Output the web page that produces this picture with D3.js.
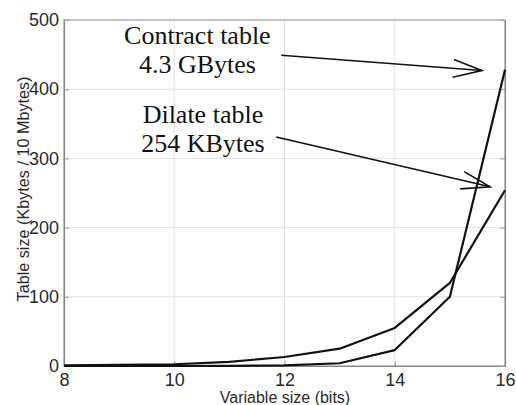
<!DOCTYPE html>
<html>
<head>
<meta charset="utf-8">
<script src="https://cdn.jsdelivr.net/npm/d3@7.9.0/dist/d3.min.js"></script>
<style>
  body { margin: 0; background: #fff; }
  svg { display: block; }
</style>
</head>
<body>
<svg id="chart" width="516" height="405"></svg>
<script>
// data
const bits = [8, 9, 10, 11, 12, 13, 14, 15, 16];
const dilateSize = [1, 1.5, 2.5, 6, 13, 25, 55, 120, 254];
const contractSize = [0, 0, 0, 0.3, 1, 4, 23, 100, 428];
const xTicks = [8, 10, 12, 14, 16];
const yTicks = [0, 100, 200, 300, 400, 500];

// annotation text + arrows, in data units
const labels = [
  { text: 'Contract table', x: 10.42, y: 465 },
  { text: '4.3 GBytes', x: 10.42, y: 423 },
  { text: 'Dilate table', x: 10.52, y: 351 },
  { text: '254 KBytes', x: 10.52, y: 309 },
];
const arrows = [
  { x1: 11.94, y1: 449, x2: 15.58, y2: 427 },
  { x1: 11.85, y1: 331, x2: 15.73, y2: 259 },
];

const svg = d3.select('#chart');
const padL = 64, padR = 505, padT = 20, padB = 366;

let x = d3.scaleLinear().domain([8, 16]).range([padL, padR]);
let y = d3.scaleLinear().domain([0, 500]).range([padB, padT]);

// grid
svg.append('g').selectAll('line').data(xTicks.slice(1, -1)).join('line')
  .attr('x1', d => x(d)).attr('x2', d => x(d))
  .attr('y1', padT).attr('y2', padB)
  .attr('stroke', '#e0e0e0').attr('stroke-width', 1);
svg.append('g').selectAll('line').data(yTicks.slice(1, -1)).join('line')
  .attr('x1', padL).attr('x2', padR)
  .attr('y1', d => y(d)).attr('y2', d => y(d))
  .attr('stroke', '#e0e0e0').attr('stroke-width', 1);

// box
svg.append('rect')
  .attr('x', padL).attr('y', padT)
  .attr('width', padR - padL).attr('height', padB - padT)
  .attr('fill', 'none').attr('stroke', '#999').attr('stroke-width', 1.2);

// axes (ticks inward, matlab style)
let xAxis = svg.append('g').attr('transform', `translate(0,${padB})`)
  .call(d3.axisBottom(x).tickValues(xTicks).tickSizeInner(-5).tickSizeOuter(0).tickPadding(7));
let yAxis = svg.append('g').attr('transform', `translate(${padL},0)`)
  .call(d3.axisLeft(y).tickValues(yTicks).tickSizeInner(-5).tickSizeOuter(0).tickPadding(5));
svg.append('g').attr('transform', `translate(${padR},0)`)
  .call(d3.axisRight(y).tickValues(yTicks).tickSizeInner(-5).tickSizeOuter(0).tickFormat(''));

[xAxis, yAxis].forEach(a => {
  a.selectAll('text')
    .attr('font-family', 'Liberation Sans, Arial, sans-serif')
    .attr('font-size', 18)
    .attr('fill', '#2a2a2a');
});
svg.selectAll('.domain').attr('stroke', '#888').attr('stroke-width', 1.2);
svg.selectAll('.tick line').attr('stroke', '#999');

// axis titles
svg.append('text')
  .attr('x', 285).attr('y', 403)
  .attr('text-anchor', 'middle')
  .attr('font-family', 'Liberation Sans, Arial, sans-serif')
  .attr('font-size', 16).attr('fill', '#2a2a2a')
  .text('Variable size (bits)');
svg.append('text')
  .attr('transform', 'translate(29,189) rotate(-90)')
  .attr('text-anchor', 'middle')
  .attr('font-family', 'Liberation Sans, Arial, sans-serif')
  .attr('font-size', 16.2).attr('fill', '#2a2a2a')
  .text('Table size (Kbytes / 10 Mbytes)');

// lines
let line = d3.line().x((d, i) => x(bits[i])).y(d => y(d));
[dilateSize, contractSize].forEach(s => {
  svg.append('path')
    .attr('d', line(s))
    .attr('fill', 'none')
    .attr('stroke', '#111')
    .attr('stroke-width', 2.2)
    .attr('stroke-linejoin', 'round');
});

// annotations
svg.append('g').selectAll('text').data(labels).join('text')
  .attr('x', d => x(d.x)).attr('y', d => y(d.y))
  .attr('text-anchor', 'middle')
  .attr('font-family', 'Liberation Serif, Times New Roman, serif')
  .attr('font-size', 26).attr('fill', '#111')
  .text(d => d.text);

arrows.forEach(a => {
  let x1 = x(a.x1), y1 = y(a.y1), x2 = x(a.x2), y2 = y(a.y2);
  let ang = Math.atan2(y2 - y1, x2 - x1);
  let len = 30, spread = 0.3;
  let g = svg.append('g').attr('stroke', '#111').attr('stroke-width', 1.6).attr('fill', 'none');
  g.append('line').attr('x1', x1).attr('y1', y1).attr('x2', x2).attr('y2', y2);
  g.append('path').attr('d',
    `M${x2 - len * Math.cos(ang - spread)},${y2 - len * Math.sin(ang - spread)}` +
    `L${x2},${y2}` +
    `L${x2 - len * Math.cos(ang + spread)},${y2 - len * Math.sin(ang + spread)}`);
});
</script>
</body>
</html>
